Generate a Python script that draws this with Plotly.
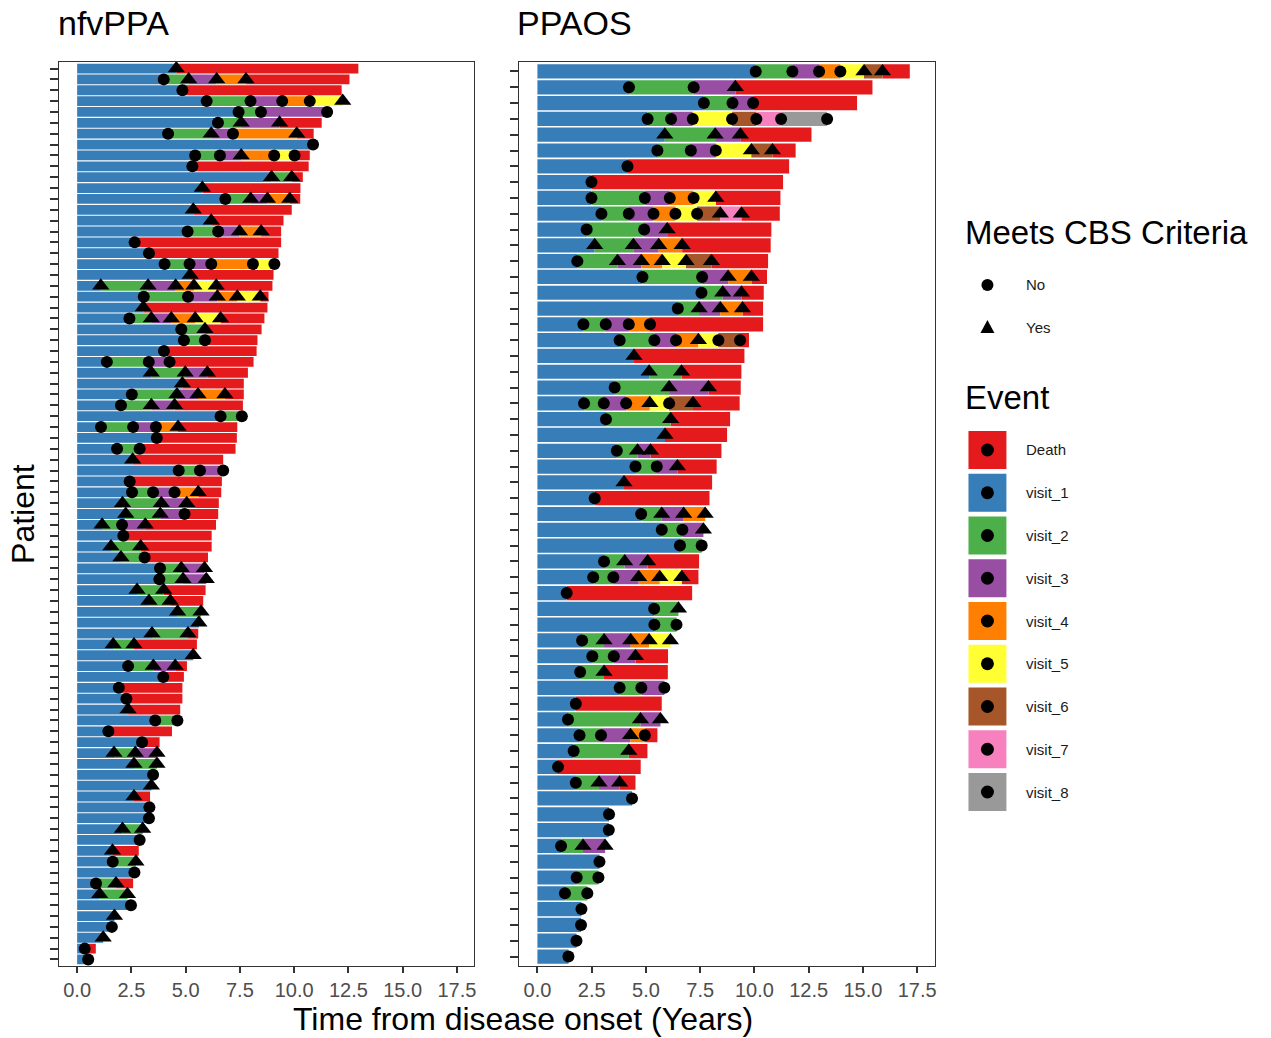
import plotly.graph_objects as go

# ---------------- data ----------------
event_names = ["Death", "visit_1", "visit_2", "visit_3", "visit_4",
               "visit_5", "visit_6", "visit_7", "visit_8"]
event_colors = ["#E41A1C", "#377EB8", "#4DAF4A", "#984EA3", "#FF7F00",
                "#FFFF33", "#A65628", "#F781BF", "#999999"]
cbs_labels = ["No", "Yes"]
x_ticks = [0, 2.5, 5, 7.5, 10, 12.5, 15, 17.5]

# nfvPPA: cumulative visit times (years from onset), CBS criteria met at visit (1 = Yes), death time
nfv_visit_times = [
    [4.57], [3.99, 5.14, 6.43, 7.78], [4.85], [5.97, 7.99, 9.45, 10.72, 12.24],
    [7.44, 8.47, 11.52], [6.49, 7.56, 9.33], [4.19, 6.18, 7.18, 10.12], [10.87],
    [5.44, 6.58, 7.56, 9.08, 10.02], [5.31], [8.96, 9.89], [5.77],
    [6.83, 8.0, 8.77, 9.8], [5.35], [6.18], [5.09, 6.5, 7.48, 8.48],
    [2.65], [3.31], [4.03, 5.18, 6.18, 8.1, 9.09], [5.21],
    [1.09, 3.27, 4.54, 5.38, 6.41], [3.07, 5.11, 6.46, 7.38, 8.44], [3.05],
    [2.41, 3.42, 4.34, 5.44, 6.61], [4.8, 5.89], [4.92, 5.89], [4.0],
    [1.37, 3.3, 4.26], [3.42, 4.98, 6.0], [4.85], [2.52, 4.6, 5.57, 6.81],
    [2.02, 3.42, 4.49], [6.61, 7.59], [1.1, 2.58, 3.63, 4.65], [3.67],
    [1.84, 2.88], [2.56], [4.68, 5.66, 6.73], [2.42], [2.53, 3.5, 4.49, 5.58],
    [2.09, 3.88, 5.05], [2.24, 3.83, 4.95], [1.15, 2.07, 3.14], [2.13],
    [1.56, 2.93], [2.02, 3.11], [3.82, 4.8, 5.87], [3.79, 4.88, 5.95],
    [2.76, 3.99], [3.31, 4.29], [4.63, 5.71], [5.61], [3.45, 5.11],
    [1.66, 2.62], [5.35], [2.35, 3.51, 4.52], [3.97], [1.92], [2.27], [2.35],
    [3.6, 4.62], [1.44], [2.99], [1.7, 2.68, 3.68], [2.62, 3.68], [3.5],
    [3.42], [2.62], [3.33], [3.31], [2.09, 3.02], [2.88], [1.63], [1.64, 2.71],
    [2.64], [0.87, 1.79], [1.04, 2.32], [2.48], [1.72], [1.6], [1.2], [0.35],
    [0.51],
]
nfv_cbs = [
    [1], [0, 1, 1, 1], [0], [0, 0, 0, 0, 1],
    [0, 0, 0], [0, 1, 1], [0, 1, 0, 1], [0],
    [0, 0, 1, 0, 0], [0], [1, 1], [1],
    [0, 1, 1, 1], [1], [1], [0, 0, 1, 1],
    [0], [0], [0, 0, 0, 0, 0], [1],
    [1, 1, 1, 1, 1], [0, 0, 1, 1, 1], [1],
    [0, 1, 1, 1, 1], [0, 1], [0, 0], [0],
    [0, 0, 0], [1, 1, 1], [1], [0, 1, 1, 1],
    [0, 1, 1], [0, 0], [0, 0, 0, 1], [0],
    [0, 0], [1], [0, 0, 0], [0], [0, 0, 0, 1],
    [1, 1, 1], [1, 1, 0], [1, 0, 1], [0],
    [1, 1], [1, 0], [0, 1, 1], [0, 1, 1],
    [1, 1], [1, 1], [1, 1], [1], [1, 1],
    [1, 1], [1], [0, 1, 1], [0], [0], [0], [1],
    [0, 0], [0], [0], [1, 1, 1], [1, 1], [0],
    [1], [1], [0], [0], [1, 1], [0], [1], [0, 1],
    [0], [0, 1], [1, 1], [0], [1], [0], [1], [0],
    [0],
]
nfv_death = [
    12.96, 12.55, 12.19, None, None, 11.27, 10.9, None, 10.72, 10.67, 10.4, 10.29,
    10.28, 9.89, 9.51, 9.4, 9.4, 9.28, None, 9.05, 9.0, 8.82, 8.77, 8.63, 8.5,
    8.31, 8.27, 8.13, 7.87, 7.68, 7.68, 7.64, None, 7.38, 7.36, 7.3, 6.73, None,
    6.67, 6.64, 6.53, 6.5, 6.4, 6.2, 6.2, 6.03, None, None, 5.92, 5.81, None,
    None, 5.58, 5.52, None, 5.06, 4.92, 4.85, 4.85, 4.75, None, 4.37, 3.8, None,
    None, None, None, 3.36, None, None, None, None, 2.84, None, None, 2.58, None,
    None, None, None, None, 0.86, None,
]

# PPAOS
ppaos_visit_times = [
    [10.06, 11.75, 12.98, 13.96, 15.05, 15.9], [4.22, 7.2, 9.12], [7.67, 8.99, 9.94],
    [5.08, 6.16, 7.16, 8.97, 10.09, 11.23, 13.35], [5.87, 8.19, 9.35],
    [5.53, 7.07, 8.22, 9.86, 10.83], [4.15], [2.49], [2.49, 4.95, 6.1, 7.2, 8.22],
    [2.95, 4.21, 5.35, 6.36, 7.36, 8.43, 9.4], [2.27, 4.92, 5.98],
    [2.64, 4.42, 5.59, 6.67], [1.84, 3.69, 4.79, 5.75, 6.85, 8.02],
    [4.84, 7.59, 8.79, 9.86], [7.56, 8.54, 9.4], [6.47, 7.45, 8.43, 9.45],
    [2.12, 3.15, 4.21, 5.19], [3.79, 5.39, 6.39, 7.42, 8.34, 9.34], [4.45],
    [5.15, 6.64], [3.56, 6.07, 7.88], [2.15, 3.06, 4.09, 5.18, 6.07, 7.17],
    [3.16, 6.14], [5.88], [3.66, 4.61, 5.21], [4.52, 5.5, 6.45], [3.99], [2.64],
    [4.78, 5.73, 6.74, 7.73], [5.73, 6.68, 7.65], [6.57, 7.57], [3.07, 4.02, 5.08],
    [2.57, 3.5, 4.67, 5.64, 6.65], [1.35], [5.38, 6.5], [5.39, 6.41],
    [2.06, 3.07, 4.3, 5.15, 6.13], [2.53, 3.52, 4.52], [1.97, 3.07],
    [3.79, 4.79, 5.85], [1.77], [1.41, 4.75, 5.67], [1.94, 2.93, 4.29, 4.95],
    [1.67, 4.21], [0.95], [1.77, 2.84, 3.79], [4.36], [3.3], [3.29],
    [1.09, 2.1, 3.12], [2.86], [1.81, 2.81], [1.27, 2.3], [2.03], [2.01], [1.8],
    [1.43],
]
ppaos_cbs = [
    [0, 0, 0, 0, 1, 1], [0, 0, 1], [0, 0, 0],
    [0, 0, 0, 0, 0, 0, 0], [1, 1, 1],
    [0, 0, 0, 1, 1], [0], [0], [0, 0, 0, 0, 1],
    [0, 0, 0, 0, 0, 1, 1], [0, 0, 1],
    [1, 1, 1, 1], [0, 1, 1, 1, 1, 1],
    [0, 0, 1, 1], [0, 1, 1], [0, 1, 1, 1],
    [0, 0, 0, 0], [0, 0, 0, 1, 0, 0], [1],
    [1, 1], [0, 1, 1], [0, 0, 0, 1, 0, 1],
    [0, 1], [1], [0, 1, 1], [0, 0, 1], [1], [0],
    [0, 1, 1, 1], [0, 0, 1], [0, 0], [0, 1, 1],
    [0, 0, 1, 1, 1], [0], [0, 1], [0, 0],
    [0, 1, 1, 1, 1], [0, 0, 1], [0, 1],
    [0, 0, 0], [0], [0, 1, 1], [0, 0, 1, 0],
    [0, 1], [0], [0, 1, 1], [0], [0], [0],
    [0, 1, 1], [0], [0, 0], [0, 0], [0], [0], [0],
    [0],
]
ppaos_death = [
    17.16, 15.44, 14.73, None, 12.63, 11.9, 11.6, 11.32, 11.2, 11.17, 10.78,
    10.75, 10.63, 10.58, 10.43, 10.4, 10.4, 9.75, 9.54, 9.4, 9.37, 9.32, 8.88,
    8.74, 8.48, 8.26, 8.05, 7.93, None, None, None, 7.45, 7.42, 7.13, None, None,
    None, 6.02, 6.01, None, 5.73, None, 5.53, 5.07, 4.76, 4.52, None, None, None,
    None, None, None, None, None, None, None, None,
]
# visit numbers for patients whose visits are not simply 1..k (visit_4 missing)
ppaos_visit_numbers = {3: [1, 2, 3, 5, 6, 7, 8], 5: [1, 2, 3, 5, 6]}

# ---------------- figure ----------------
W, H = 1271, 1038
color_of = dict(zip(event_names, event_colors))


def px_x(p):
    return p / W


def px_y(p):
    return 1 - p / H


def add_panel(fig, times, cbs, death, visit_numbers, xa, ya):
    segs = {e: ([], [], []) for e in event_names}
    for i, tl in enumerate(times):
        nums = visit_numbers.get(i, list(range(1, len(tl) + 1)))
        prev = 0.0
        for t, v in zip(tl, nums):
            s = segs["visit_%d" % v]
            s[0].append(i); s[1].append(prev); s[2].append(t - prev)
            prev = t
        if death[i] is not None:
            s = segs["Death"]
            s[0].append(i); s[1].append(prev); s[2].append(death[i] - prev)
    for e in event_names:
        ys, bases, lens = segs[e]
        if not ys:
            continue
        fig.add_trace(go.Bar(y=ys, x=lens, base=bases, orientation="h", width=0.9,
                             marker=dict(color=color_of[e], line=dict(width=0)),
                             xaxis=xa, yaxis=ya, showlegend=False, hoverinfo="skip"))
    for flag, sym, size in [(0, "circle", 12), (1, "triangle-up", 15)]:
        xs, ys = [], []
        for i, tl in enumerate(times):
            for t, c in zip(tl, cbs[i]):
                if c == flag:
                    xs.append(t); ys.append(i)
        fig.add_trace(go.Scatter(x=xs, y=ys, mode="markers",
                                 marker=dict(symbol=sym, size=size, color="black",
                                             line=dict(width=0)),
                                 xaxis=xa, yaxis=ya, showlegend=False, hoverinfo="skip"))


fig = go.Figure()
add_panel(fig, nfv_visit_times, nfv_cbs, nfv_death, {}, "x", "y")
add_panel(fig, ppaos_visit_times, ppaos_cbs, ppaos_death, ppaos_visit_numbers, "x2", "y2")

ydom = [px_y(966), px_y(62)]
xcommon = dict(range=[-0.84, 18.3], tickvals=x_ticks,
               ticktext=["%.1f" % v for v in x_ticks], ticks="outside", ticklen=6,
               tickwidth=2, tickcolor="#333333",
               tickfont=dict(size=20, color="#4d4d4d"), showline=True, mirror=True,
               linecolor="#333333", linewidth=1, showgrid=False, zeroline=False)
ycommon = dict(ticks="outside", ticklen=8, tickwidth=2, tickcolor="#333333",
               showticklabels=False, showline=True, mirror=True, linecolor="#333333",
               linewidth=1, showgrid=False, zeroline=False, domain=ydom)
n1, n2 = len(nfv_visit_times), len(ppaos_visit_times)
fig.update_layout(
    xaxis=dict(domain=[px_x(59), px_x(475)], anchor="y", **xcommon),
    xaxis2=dict(domain=[px_x(520), px_x(936)], anchor="y2", **xcommon),
    yaxis=dict(anchor="x", range=[n1 - 0.4, -0.6], tickvals=list(range(n1)), **ycommon),
    yaxis2=dict(anchor="x2", range=[n2 - 0.4, -0.6], tickvals=list(range(n2)), **ycommon),
    barmode="overlay",
    width=W, height=H, margin=dict(l=0, r=0, t=0, b=0),
    paper_bgcolor="white", plot_bgcolor="white",
    font=dict(family="Liberation Sans, Arial, sans-serif", color="black"),
)

ann = []
shapes = []
ann.append(dict(text="nfvPPA", x=px_x(57), y=px_y(23), xanchor="left", yanchor="middle",
                font=dict(size=34)))
ann.append(dict(text="PPAOS", x=px_x(517), y=px_y(23), xanchor="left", yanchor="middle",
                font=dict(size=34)))
ann.append(dict(text="Patient", x=px_x(23), y=px_y(514), textangle=-90,
                xanchor="center", yanchor="middle", font=dict(size=32)))
ann.append(dict(text="Time from disease onset (Years)", x=px_x(524), y=px_y(1019),
                xanchor="center", yanchor="middle", font=dict(size=32)))

# legend: CBS criteria
ann.append(dict(text="Meets CBS Criteria", x=px_x(966), y=px_y(232), xanchor="left",
                yanchor="middle", font=dict(size=33)))
for k, (lab, cy) in enumerate(zip(cbs_labels, [285, 327])):
    if k == 0:
        shapes.append(dict(type="circle", xref="paper", yref="paper",
                           x0=px_x(983), x1=px_x(995), y0=px_y(cy + 6), y1=px_y(cy - 6),
                           fillcolor="black", line=dict(width=0)))
    else:
        path = "M %f %f L %f %f L %f %f Z" % (px_x(982), px_y(cy + 6), px_x(996),
                                              px_y(cy + 6), px_x(989), px_y(cy - 7))
        shapes.append(dict(type="path", xref="paper", yref="paper", path=path,
                           fillcolor="black", line=dict(width=0)))
    ann.append(dict(text=lab, x=px_x(1027), y=px_y(cy), xanchor="left", yanchor="middle",
                    font=dict(size=15, color="#1a1a1a")))

# legend: Event
ann.append(dict(text="Event", x=px_x(966), y=px_y(398), xanchor="left", yanchor="middle",
                font=dict(size=33)))
for k, (lab, col) in enumerate(zip(event_names, event_colors)):
    cy = 450 + k * 42.75
    shapes.append(dict(type="rect", xref="paper", yref="paper",
                       x0=px_x(970), x1=px_x(1008), y0=px_y(cy + 19), y1=px_y(cy - 19),
                       fillcolor=col, line=dict(width=0)))
    shapes.append(dict(type="circle", xref="paper", yref="paper",
                       x0=px_x(982.5), x1=px_x(995.5), y0=px_y(cy + 6.5), y1=px_y(cy - 6.5),
                       fillcolor="black", line=dict(width=0)))
    ann.append(dict(text=lab, x=px_x(1027), y=px_y(cy), xanchor="left", yanchor="middle",
                    font=dict(size=15, color="#1a1a1a")))

for a in ann:
    a.update(xref="paper", yref="paper", showarrow=False, borderpad=0)
fig.update_layout(annotations=ann, shapes=shapes)

# remove the default page margin so the figure fills the window exactly
fig.write_html("out.html",
               config={"displayModeBar": False},
               post_script="document.body.style.margin='0';"
                           "document.body.style.overflow='hidden';")
